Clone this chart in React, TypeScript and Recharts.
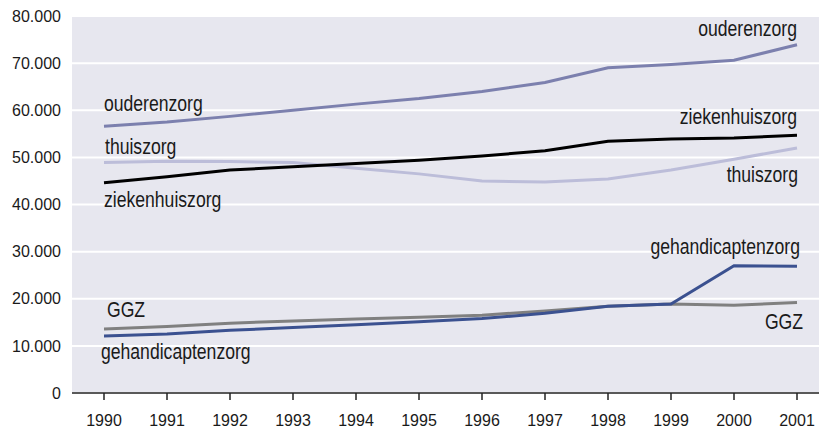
import React from "react";
import { LineChart, Line, XAxis, YAxis, CartesianGrid } from "recharts";

const years = ["1990", "1991", "1992", "1993", "1994", "1995", "1996", "1997", "1998", "1999", "2000", "2001"];
const ouderenzorg = [56600, 57500, 58700, 60000, 61300, 62500, 64000, 65900, 69000, 69700, 70600, 73900];
const ziekenhuiszorg = [44600, 45900, 47300, 48000, 48700, 49400, 50300, 51400, 53400, 53900, 54100, 54700];
const thuiszorg = [48900, 49200, 49100, 48900, 47700, 46500, 45000, 44750, 45400, 47300, 49600, 52000];
const ggz = [13600, 14100, 14800, 15300, 15700, 16100, 16500, 17400, 18400, 18900, 18600, 19200];
const gehandicaptenzorg = [12100, 12500, 13300, 13900, 14500, 15100, 15800, 16900, 18400, 18900, 27000, 26900];
const yTicks = [0, 10000, 20000, 30000, 40000, 50000, 60000, 70000, 80000];

const data = years.map((year, i) => ({
  year,
  ouderenzorg: ouderenzorg[i],
  ziekenhuiszorg: ziekenhuiszorg[i],
  thuiszorg: thuiszorg[i],
  GGZ: ggz[i],
  gehandicaptenzorg: gehandicaptenzorg[i],
}));

// label placement per series: first and last point, offset from the point
const SERIES = [
  { key: "thuiszorg", color: "#bcbdd9", labels: [[0, "start", 1, -9], [11, "end", 1, 34]] },
  { key: "ouderenzorg", color: "#7c80ae", labels: [[0, "start", 0, -15], [11, "end", 0, -9]] },
  { key: "ziekenhuiszorg", color: "#000000", labels: [[0, "start", 0, 24], [11, "end", 0, -11]] },
  { key: "GGZ", color: "#808080", labels: [[0, "start", 3, -12], [11, "end", 6, 26]] },
  { key: "gehandicaptenzorg", color: "#3b5190", labels: [[0, "start", -3, 23], [11, "end", 3, -12]] },
] as const;

const FONT = "'Liberation Sans', Arial, sans-serif";

const fmt = (v: number) => String(v).replace(/\B(?=(\d{3})+(?!\d))/g, ".");

function makeDot(key: string, labels: readonly (readonly [number, string, number, number])[]) {
  return (props: any) => {
    const { cx, cy, index } = props;
    const lab = labels.find(l => l[0] === index);
    if (!lab || cx == null) return <g key={`${key}-${index}`} />;
    // condensed look: squeeze the text horizontally around its anchor
    return (
      <text
        key={`${key}-${index}`}
        transform={`translate(${cx + lab[2]},${cy + lab[3]}) scale(0.8,1)`}
        x={0}
        y={0}
        textAnchor={lab[1] as any}
        fontFamily={FONT}
        fontSize={22}
        fill="#1a1a1a"
      >
        {key}
      </text>
    );
  };
}

const XTick = (props: any) => {
  const { x, y, payload } = props;
  return (
    <text x={x} y={y + 26} textAnchor="middle" fontFamily={FONT} fontSize={16} fill="#1a1a1a">
      {payload.value}
    </text>
  );
};

export default function App() {
  return (
    <div style={{ position: "absolute", left: 0, top: 0, width: 819, height: 430, background: "#fff" }}>
      <LineChart width={819} height={430} data={data} margin={{ top: 16, right: 0, bottom: 0, left: 0 }}>
        <CartesianGrid vertical={false} fill="#e7e7ef" stroke="#ffffff" strokeWidth={2} />
        <XAxis
          dataKey="year"
          height={37}
          padding={{ left: 32, right: 22 }}
          tickSize={7}
          tickMargin={0}
          stroke="#222"
          strokeWidth={1.5}
          tick={<XTick />}
          interval={0}
        />
        <YAxis
          width={72}
          domain={[0, 80000]}
          ticks={yTicks}
          tickFormatter={fmt}
          axisLine={false}
          tickLine={false}
          tickSize={0}
          tickMargin={11}
          tick={{ fill: "#1a1a1a", fontSize: 16, fontFamily: FONT }}
        />
        {SERIES.map(s => (
          <Line
            key={s.key}
            type="linear"
            dataKey={s.key}
            stroke={s.color}
            strokeWidth={3}
            dot={makeDot(s.key, s.labels as any)}
            activeDot={false}
            isAnimationActive={false}
          />
        ))}
      </LineChart>
    </div>
  );
}
